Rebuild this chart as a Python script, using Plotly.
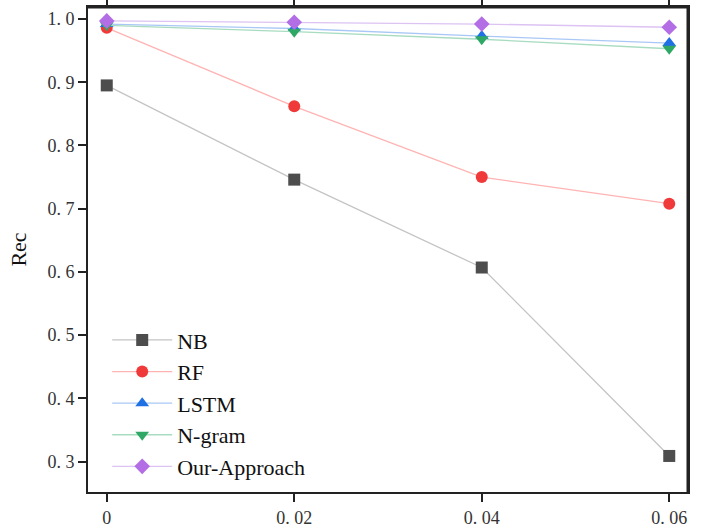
import plotly.graph_objects as go

x_vals = [0, 0.02, 0.04, 0.06]
x_tick_text = ["0", "0. 02", "0. 04", "0. 06"]
y_tick_vals = [0.3, 0.4, 0.5, 0.6, 0.7, 0.8, 0.9, 1.0]
y_tick_text = ["0. 3", "0. 4", "0. 5", "0. 6", "0. 7", "0. 8", "0. 9", "1. 0"]
y_minor_vals = [0.35, 0.45, 0.55, 0.65, 0.75, 0.85, 0.95]

nb = [0.895, 0.746, 0.607, 0.309]
rf = [0.986, 0.862, 0.750, 0.708]
lstm = [0.992, 0.985, 0.973, 0.962]
ngram = [0.990, 0.980, 0.968, 0.953]
ours = [0.997, 0.995, 0.992, 0.987]

series = [
    ("NB", nb, "square", "#4d4d4d", "#c4c4c4"),
    ("RF", rf, "circle", "#f03a3a", "#ffb3b3"),
    ("LSTM", lstm, "triangle-up", "#1f6fe5", "#a9c8f5"),
    ("N-gram", ngram, "triangle-down", "#2ea864", "#a8dcc0"),
    ("Our-Approach", ours, "diamond", "#b36ee6", "#dcc3f3"),
]

y_range = [0.252, 1.019]

fig = go.Figure()
for name, ys, sym, mc, lc in series:
    fig.add_trace(go.Scatter(
        x=x_vals, y=ys, name=name, mode="lines+markers",
        line=dict(color=lc, width=1.3),
        marker=dict(symbol=sym, size=12, color=mc),
    ))

font = "Liberation Serif, Times New Roman, serif"
fig.update_layout(
    width=702, height=531,
    margin=dict(l=88, r=14, t=7, b=39, autoexpand=False),
    plot_bgcolor="white", paper_bgcolor="white",
    font=dict(family=font, size=18, color="#333"),
    legend=dict(x=0.032, y=0.01, xanchor="left", yanchor="bottom",
                font=dict(size=22, family=font, color="#111"),
                bgcolor="rgba(0,0,0,0)", itemwidth=60),
    showlegend=True,
    shapes=[
        dict(type="line", xref="paper", yref="paper", x0=0, y0=1, x1=1, y1=1,
             line=dict(color="#222222", width=3), layer="above"),
        dict(type="line", xref="paper", yref="paper", x0=1, y0=0, x1=1, y1=1,
             line=dict(color="#222222", width=3), layer="above"),
    ],
    xaxis=dict(
        range=[-0.002, 0.062], tickmode="array", tickvals=x_vals, ticktext=x_tick_text,
        showgrid=False, zeroline=False, showline=True, mirror="allticks", automargin=False,
        linecolor="#222", linewidth=2, ticks="outside", ticklen=8, tickwidth=2,
        tickcolor="#222", tickfont=dict(size=18, family=font, color="#333"),
    ),
    yaxis=dict(
        range=y_range, tickmode="array", tickvals=y_tick_vals, ticktext=y_tick_text,
        showgrid=False, zeroline=False, showline=True, mirror=True, automargin=False,
        linecolor="#222", linewidth=2, ticks="outside", ticklen=8, tickwidth=2,
        tickcolor="#222", tickfont=dict(size=18, family=font, color="#333"),
        title=dict(text="Rec", font=dict(size=22, family=font, color="#111")),
    ),
    yaxis2=dict(
        range=y_range, overlaying="y", side="left", tickmode="array", tickvals=y_minor_vals,
        showticklabels=False, ticks="outside", ticklen=5, tickwidth=2, tickcolor="#222",
        showgrid=False, zeroline=False, showline=False, automargin=False,
    ),
)
fig.write_html("out.html", config={"displayModeBar": False},
               post_script="document.body.style.margin='0';")
